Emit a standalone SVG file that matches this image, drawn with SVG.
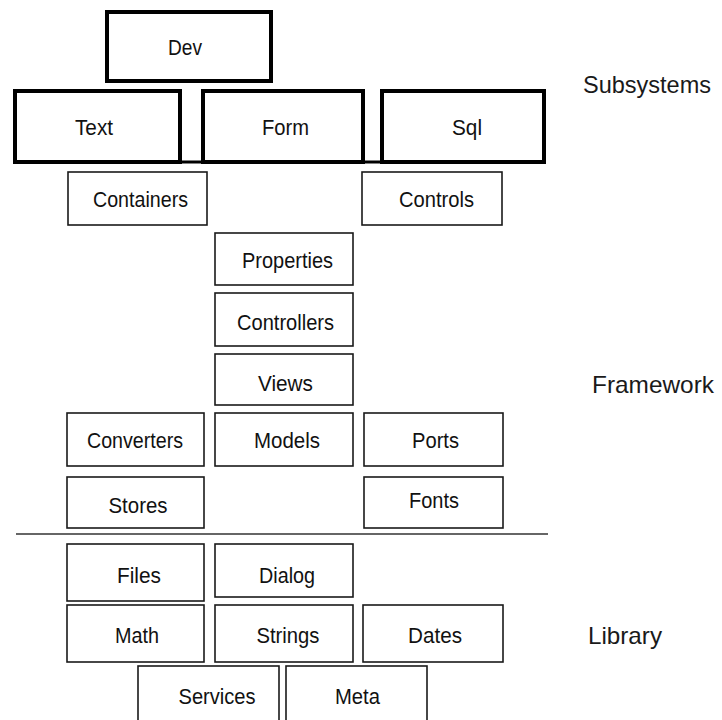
<svg xmlns="http://www.w3.org/2000/svg" width="722" height="720" viewBox="0 0 722 720">
  <style>
    .thick { fill: #fff; stroke: #000; stroke-width: 4; }
    .box { fill: #fff; stroke: #1a1a1a; stroke-width: 1.6; }
    .lbl { font-family: "Liberation Sans", Arial, sans-serif; font-size: 22px; fill: #111; text-anchor: middle; }
    .layer { font-family: "Liberation Sans", Arial, sans-serif; font-size: 24px; fill: #1a1a1a; }
    .rule { stroke: #333; stroke-width: 1.6; }
  </style>
  <rect width="722" height="720" fill="#fff"/>

  <!-- connectors: base bar under the subsystems and the layer divider -->
  <g id="connectors">
    <line x1="15" y1="162" x2="544" y2="162" stroke="#000" stroke-width="3"/>
    <line class="rule" x1="16" y1="534" x2="548" y2="534"/>
  </g>

  <!-- subsystems -->
  <g id="dev"><rect class="thick" x="107" y="12" width="164" height="69"/><text class="lbl" x="185" y="55" textLength="34" lengthAdjust="spacingAndGlyphs">Dev</text></g>
  <g id="text"><rect class="thick" x="15" y="91" width="165" height="71"/><text class="lbl" x="94" y="135" textLength="38" lengthAdjust="spacingAndGlyphs">Text</text></g>
  <g id="form"><rect class="thick" x="203" y="91" width="160" height="71"/><text class="lbl" x="285.5" y="135" textLength="47" lengthAdjust="spacingAndGlyphs">Form</text></g>
  <g id="sql"><rect class="thick" x="382" y="91" width="162" height="71"/><text class="lbl" x="467" y="135" textLength="30" lengthAdjust="spacingAndGlyphs">Sql</text></g>

  <!-- framework -->
  <g id="containers"><rect class="box" x="68" y="172" width="139" height="53"/><text class="lbl" x="140.5" y="207" textLength="95" lengthAdjust="spacingAndGlyphs">Containers</text></g>
  <g id="controls"><rect class="box" x="362" y="172" width="140" height="53"/><text class="lbl" x="436.5" y="207" textLength="75" lengthAdjust="spacingAndGlyphs">Controls</text></g>
  <g id="properties"><rect class="box" x="215" y="233" width="138" height="52"/><text class="lbl" x="287.5" y="268" textLength="91" lengthAdjust="spacingAndGlyphs">Properties</text></g>
  <g id="controllers"><rect class="box" x="215" y="293" width="138" height="53"/><text class="lbl" x="285.5" y="330" textLength="97" lengthAdjust="spacingAndGlyphs">Controllers</text></g>
  <g id="views"><rect class="box" x="215" y="354" width="138" height="51"/><text class="lbl" x="285.5" y="391" textLength="55" lengthAdjust="spacingAndGlyphs">Views</text></g>
  <g id="models"><rect class="box" x="215" y="413" width="138" height="53"/><text class="lbl" x="287" y="448" textLength="66" lengthAdjust="spacingAndGlyphs">Models</text></g>
  <g id="converters"><rect class="box" x="67" y="413" width="137" height="53"/><text class="lbl" x="135" y="448" textLength="96" lengthAdjust="spacingAndGlyphs">Converters</text></g>
  <g id="ports"><rect class="box" x="364" y="413" width="139" height="53"/><text class="lbl" x="435.5" y="448" textLength="47" lengthAdjust="spacingAndGlyphs">Ports</text></g>
  <g id="stores"><rect class="box" x="67" y="477" width="137" height="51"/><text class="lbl" x="138" y="513" textLength="59" lengthAdjust="spacingAndGlyphs">Stores</text></g>
  <g id="fonts"><rect class="box" x="364" y="477" width="139" height="51"/><text class="lbl" x="434" y="508" textLength="50" lengthAdjust="spacingAndGlyphs">Fonts</text></g>

  <!-- library -->
  <g id="files"><rect class="box" x="67" y="544" width="137" height="57"/><text class="lbl" x="139" y="583" textLength="44" lengthAdjust="spacingAndGlyphs">Files</text></g>
  <g id="dialog"><rect class="box" x="215" y="544" width="138" height="53"/><text class="lbl" x="287" y="583" textLength="56" lengthAdjust="spacingAndGlyphs">Dialog</text></g>
  <g id="math"><rect class="box" x="67" y="605" width="137" height="57"/><text class="lbl" x="137" y="643" textLength="44" lengthAdjust="spacingAndGlyphs">Math</text></g>
  <g id="strings"><rect class="box" x="215" y="605" width="138" height="57"/><text class="lbl" x="288" y="643" textLength="63" lengthAdjust="spacingAndGlyphs">Strings</text></g>
  <g id="dates"><rect class="box" x="363" y="605" width="140" height="57"/><text class="lbl" x="435" y="643" textLength="54" lengthAdjust="spacingAndGlyphs">Dates</text></g>
  <g id="services"><rect class="box" x="138" y="666" width="141" height="70"/><text class="lbl" x="217" y="704" textLength="77" lengthAdjust="spacingAndGlyphs">Services</text></g>
  <g id="meta"><rect class="box" x="286" y="666" width="141" height="70"/><text class="lbl" x="357.5" y="704" textLength="45" lengthAdjust="spacingAndGlyphs">Meta</text></g>

  <!-- layer names -->
  <text class="layer" x="583" y="93" textLength="128" lengthAdjust="spacingAndGlyphs">Subsystems</text>
  <text class="layer" x="592" y="393" textLength="122" lengthAdjust="spacingAndGlyphs">Framework</text>
  <text class="layer" x="588" y="644" textLength="74" lengthAdjust="spacingAndGlyphs">Library</text>
</svg>
